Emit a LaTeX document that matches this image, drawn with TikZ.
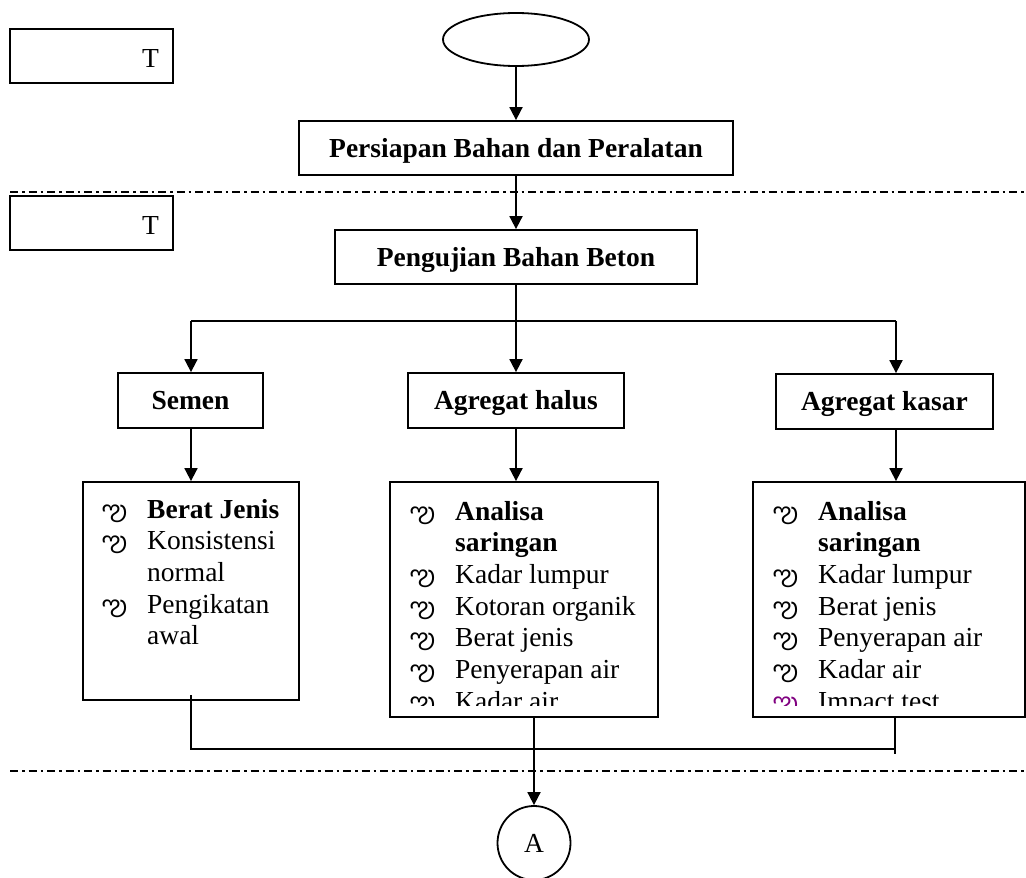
\documentclass[tikz,border=0pt]{standalone}
\usepackage{fontspec}
\setmainfont{Liberation Serif}
\newfontfamily\fTel[Script=Telugu]{Hind Guntur}
\usetikzlibrary{arrows.meta,shapes.geometric}
\definecolor{bulpurple}{HTML}{800080}
\newcommand\bul{\makebox[45pt][l]{\smash{\raisebox{-1pt}{\fTel\fontsize{26}{26}\selectfont ఌ}}}}
\begin{document}
\begin{tikzpicture}[x=1pt,y=-1pt,
  box/.style={draw, line width=1.8pt, rectangle, inner sep=0pt,
    text height=24pt, text depth=5.5pt,
    font=\fontsize{27.5}{31.7}\selectfont\bfseries},
  lbox/.style={draw, line width=1.8pt, rectangle, inner sep=0pt},
  lst/.style={inner sep=0pt, anchor=base west, font=\fontsize{27.5}{31.7}\selectfont},
  arr/.style={-{Triangle[length=13pt,width=13pt]}, line width=1.8pt},
  ln/.style={line width=1.8pt},
  sep/.style={line width=1.4pt, dash pattern=on 8pt off 4pt on 2.5pt off 4pt}]
\useasboundingbox (0,0) rectangle (1026,878);

% separators
\coordinate (s1a) at (10,192); \coordinate (s1b) at (1026,192);
\coordinate (s2a) at (10,771); \coordinate (s2b) at (1026,771);
\draw[sep] (s1a) -- (s1b);
\draw[sep] (s2a) -- (s2b);

% T boxes
\node[lbox, minimum width=163pt, minimum height=54pt] (t1) at (91.5,56) {};
\node[lst, anchor=base east] (t1l) at (159,67) {T};
\node[lbox, minimum width=163pt, minimum height=54pt] (t2) at (91.5,223) {};
\node[lst, anchor=base east] (t2l) at (159,234) {T};

% main flow
\node[draw, ellipse, line width=1.8pt, minimum width=146pt, minimum height=53pt, inner sep=0pt] (start) at (516,39.5) {};
\node[box, minimum width=434pt, minimum height=54pt] (p1) at (516,148) {Persiapan Bahan dan Peralatan};
\node[box, minimum width=362pt, minimum height=54pt] (p2) at (516,257) {Pengujian Bahan Beton};

\node[box, minimum width=145pt, minimum height=55pt] (semen) at (190.5,400.5) {Semen};
\node[box, minimum width=216pt, minimum height=55pt] (halus) at (516,400.5) {Agregat halus};
\node[box, minimum width=217pt, minimum height=55pt] (kasar) at (884.5,401.5) {Agregat kasar};

\node[lbox, minimum width=216pt, minimum height=218pt] (semL) at (191,591) {};
\node[lbox, minimum width=268pt, minimum height=235pt] (halL) at (524,599.5) {};
\node[lbox, minimum width=272pt, minimum height=235pt] (kasL) at (889,599.5) {};

\node[draw, ellipse, line width=1.8pt, minimum width=73pt, minimum height=74pt, inner sep=0pt,
  font=\fontsize{27.5}{31.7}\selectfont] (A) at (534,843) {A};

% list texts
\node[lst] (semT) at (102,518) {\begin{tabular}[t]{@{}l@{}l@{}}
\bul & \textbf{Berat Jenis}\\
\bul & Konsistensi\\
 & normal\\
\bul & Pengikatan\\
 & awal
\end{tabular}};

\begin{scope}
\clip (391,483) rectangle (657,705);
\node[lst] (halT) at (410,520) {\begin{tabular}[t]{@{}l@{}l@{}}
\bul & \textbf{Analisa}\\
 & \textbf{saringan}\\
\bul & Kadar lumpur\\
\bul & Kotoran organik\\
\bul & Berat jenis\\
\bul & Penyerapan air\\
\bul & Kadar air
\end{tabular}};
\end{scope}

\begin{scope}
\clip (754,483) rectangle (1024,705);
\node[lst] (kasT) at (773,520) {\begin{tabular}[t]{@{}l@{}l@{}}
\bul & \textbf{Analisa}\\
 & \textbf{saringan}\\
\bul & Kadar lumpur\\
\bul & Berat jenis\\
\bul & Penyerapan air\\
\bul & Kadar air\\
{\color{bulpurple}\bul} & Impact test
\end{tabular}};
\end{scope}

% connectors
\draw[arr] (start) -- (p1);
\draw[arr] (p1) -- (p2);
\coordinate (jL) at (191,321);
\coordinate (jC) at (516,321);
\coordinate (jR) at (896,321);
\draw[ln] (p2.south) -- (jC);
\draw[ln] (jL) -- (jR);
\draw[arr] (jL) -- (jL |- semen.north);
\draw[arr] (jC) -- (halus.north);
\draw[arr] (jR) -- (jR |- kasar.north);

\draw[arr] (semen.south -| jL) -- (jL |- semL.north);
\draw[arr] (halus.south) -- (halus.south |- halL.north);
\draw[arr] (kasar.south -| jR) -- (jR |- kasL.north);

\coordinate (bL) at (191,749);
\coordinate (bR) at (895,749);
\coordinate (bRe) at (895,754);
\coordinate (bC) at (534,717);
\draw[ln] (191,695) -- (bL) -- (bR);
\draw[ln] (kasL.south -| bR) -- (bRe);
\draw[arr] (bC) -- (A.north);
\end{tikzpicture}
\end{document}
